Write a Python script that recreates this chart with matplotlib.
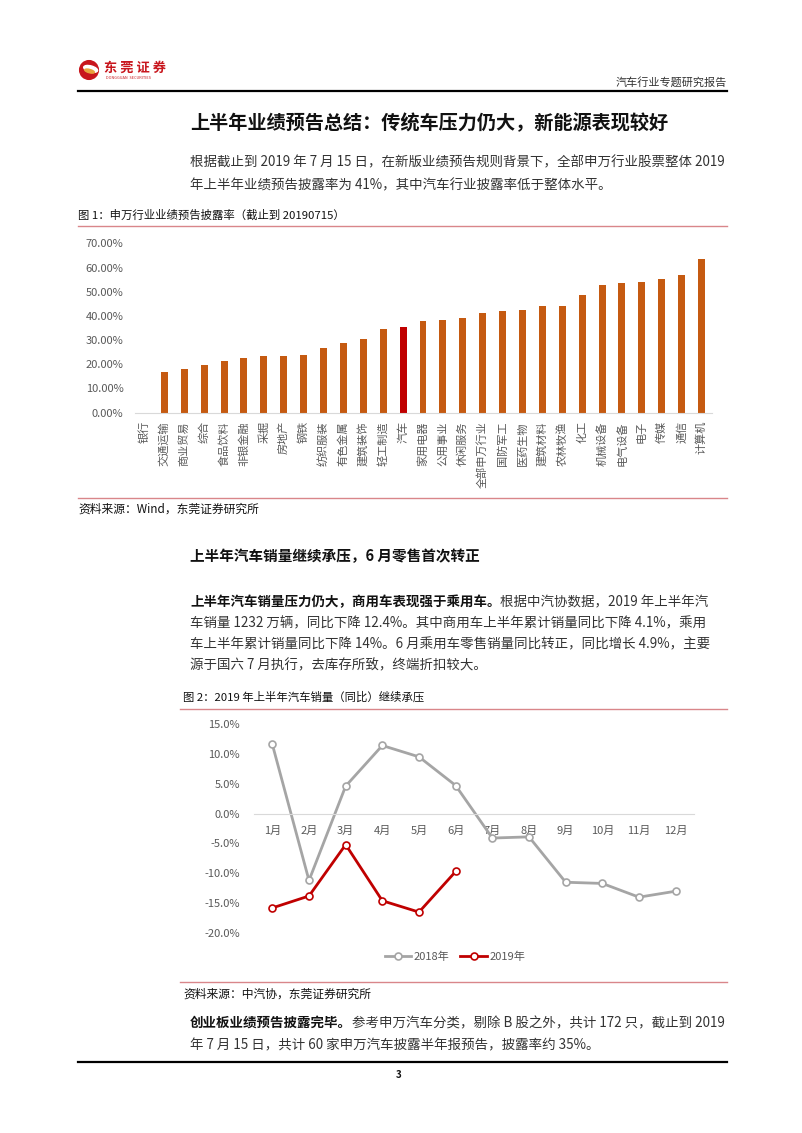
import matplotlib
matplotlib.use("Agg")
import matplotlib.pyplot as plt
from matplotlib.lines import Line2D
from matplotlib.patches import Circle, Ellipse
from matplotlib.ticker import FuncFormatter

plt.rcParams['font.family'] = ['Noto Sans CJK SC', 'DejaVu Sans']

W, H = 802, 1133

# 图1 data: 申万行业业绩预告披露率
industries = ['银行', '交通运输', '商业贸易', '综合', '食品饮料', '非银金融', '采掘', '房地产',
              '钢铁', '纺织服装', '有色金属', '建筑装饰', '轻工制造', '汽车', '家用电器', '公用事业',
              '休闲服务', '全部申万行业', '国防军工', '医药生物', '建筑材料', '农林牧渔', '化工',
              '机械设备', '电气设备', '电子', '传媒', '通信', '计算机']
disclosure = [0.0, 16.8, 17.9, 19.7, 21.4, 22.7, 23.3, 23.6,
              23.8, 26.7, 28.9, 30.4, 34.7, 35.3, 37.8, 38.4,
              39.1, 41.1, 42.0, 42.3, 44.0, 44.0, 48.6,
              52.6, 53.5, 53.9, 55.2, 56.8, 63.6]
y1_ticks = [0, 10, 20, 30, 40, 50, 60, 70]

# 图2 data: 汽车销量同比
months = ['1月', '2月', '3月', '4月', '5月', '6月', '7月', '8月', '9月', '10月', '11月', '12月']
sales_2018 = [11.6, -11.2, 4.6, 11.4, 9.5, 4.7, -4.1, -3.9, -11.5, -11.7, -14.0, -13.0]
sales_2019 = [-15.8, -13.8, -5.2, -14.6, -16.5, -9.7]
y2_ticks = [-20, -15, -10, -5, 0, 5, 10, 15]

fig = plt.figure(figsize=(W / 100, H / 100), dpi=100)
fig.patch.set_facecolor('white')


def fx(x):
    return x / W


def fy(y):
    return 1 - y / H


def txt(x, y, s, **kw):
    kw.setdefault('va', 'center')
    kw.setdefault('ha', 'left')
    return fig.text(fx(x), fy(y), s, **kw)


def hline(y, x0, x1, color, lw):
    fig.add_artist(Line2D([fx(x0), fx(x1)], [fy(y), fy(y)], color=color, lw=lw,
                          transform=fig.transFigure))


def mixed(x, y, bold, rest, size=10):
    t = txt(x, y, bold, fontsize=size, fontweight='bold', color='#111111')
    bb = t.get_window_extent(fig.canvas.get_renderer())
    txt(bb.x1, y, rest, fontsize=size, color='#333333')


BODY = '#333333'
RULE = '#d9868a'
FS = 9.7

# header / logo
lax = fig.add_axes([fx(78), fy(81), 22 / W, 22 / H])
lax.set_xlim(-1, 1)
lax.set_ylim(-1, 1)
lax.set_aspect('equal')
lax.axis('off')
lax.add_patch(Circle((0, 0), 0.85, color='#c8161d'))
lax.add_patch(Ellipse((0.15, 0.1), 1.3, 0.55, angle=-15, color='white'))
lax.add_patch(Ellipse((0.05, -0.1), 0.9, 0.3, angle=-15, color='#e8a33d'))
txt(104, 68, '东 莞 证 券', fontsize=9.5, fontweight='bold', color='#c8161d')
txt(106, 78, 'DONGGUAN  SECURITIES', fontsize=2.8, color='#c8161d')
txt(727, 82, '汽车行业专题研究报告', fontsize=8, color='#333333', ha='right')
hline(91, 78, 727, 'black', 1.6)

# section 1
txt(190, 123, '上半年业绩预告总结：传统车压力仍大，新能源表现较好', fontsize=13.8, fontweight='bold',
    color='#111111')
txt(190, 162, '根据截止到 2019 年 7 月 15 日，在新版业绩预告规则背景下，全部申万行业股票整体 2019',
    fontsize=FS, color=BODY)
txt(190, 185, '年上半年业绩预告披露率为 41%，其中汽车行业披露率低于整体水平。', fontsize=FS, color=BODY)

txt(78, 215, '图 1：申万行业业绩预告披露率（截止到 20190715）', fontsize=8.2, color='#111111')
hline(226, 78, 727, RULE, 1.0)

ax1 = fig.add_axes([fx(134.5), fy(412.7), 577 / W, (412.7 - 243.3) / H])
xpos = list(range(len(industries)))
colors = ['#c00000' if n == '汽车' else '#c55a11' for n in industries]
ax1.bar(xpos, disclosure, width=0.35, color=colors)
ax1.set_xlim(-0.5, len(industries) - 0.5)
ax1.set_ylim(0, 70)
ax1.set_yticks(y1_ticks)
ax1.yaxis.set_major_formatter(FuncFormatter(lambda v, p: '%.2f%%' % v))
ax1.set_xticks(xpos)
ax1.set_xticklabels(industries, rotation=90, va='top', ha='center')
ax1.tick_params(axis='both', length=0, labelsize=8, labelcolor='#595959')
ax1.tick_params(axis='x', pad=6)
ax1.tick_params(axis='y', pad=8)
for s in ['left', 'right', 'top']:
    ax1.spines[s].set_visible(False)
ax1.spines['bottom'].set_color('#d9d9d9')
ax1.set_facecolor('none')

hline(498, 78, 727, RULE, 1.0)
txt(78, 509, '资料来源：Wind，东莞证券研究所', fontsize=8.5, color='#111111')

# section 2
txt(190, 556, '上半年汽车销量继续承压，6 月零售首次转正', fontsize=10.5, fontweight='bold', color='#111111')
mixed(190, 602, '上半年汽车销量压力仍大，商用车表现强于乘用车。', '根据中汽协数据，2019 年上半年汽', FS)
txt(190, 623, '车销量 1232 万辆，同比下降 12.4%。其中商用车上半年累计销量同比下降 4.1%，乘用',
    fontsize=FS, color=BODY)
txt(190, 644, '车上半年累计销量同比下降 14%。6 月乘用车零售销量同比转正，同比增长 4.9%，主要',
    fontsize=FS, color=BODY)
txt(190, 665, '源于国六 7 月执行，去库存所致，终端折扣较大。', fontsize=FS, color=BODY)

txt(183, 697, '图 2：2019 年上半年汽车销量（同比）继续承压', fontsize=8.2, color='#111111')
hline(709, 180, 727, RULE, 1.0)

ax2 = fig.add_axes([fx(254), fy(933), 440 / W, (933 - 724) / H])
ax2.plot(range(len(sales_2018)), sales_2018, color='#a5a5a5', lw=2, marker='o', ms=5,
         mfc='white', mec='#a5a5a5', mew=1.2, label='2018年')
ax2.plot(range(len(sales_2019)), sales_2019, color='#c00000', lw=2, marker='o', ms=5,
         mfc='white', mec='#c00000', mew=1.2, label='2019年')
ax2.set_xlim(-0.5, len(months) - 0.5)
ax2.set_ylim(-20, 15)
ax2.set_yticks(y2_ticks)
ax2.yaxis.set_major_formatter(FuncFormatter(lambda v, p: '%.1f%%' % v))
ax2.set_xticks(range(len(months)))
ax2.set_xticklabels(months)
ax2.tick_params(axis='both', length=0, labelsize=8, labelcolor='#595959')
ax2.tick_params(axis='x', pad=9)
ax2.tick_params(axis='y', pad=10)
for s in ['left', 'right', 'top']:
    ax2.spines[s].set_visible(False)
ax2.spines['bottom'].set_position(('data', 0))
ax2.spines['bottom'].set_color('#d9d9d9')
ax2.set_facecolor('none')
h, l = ax2.get_legend_handles_labels()
fig.legend(h, l, loc='center', bbox_to_anchor=(fx(455), fy(957)), ncol=2, frameon=False,
           fontsize=8, labelcolor='#595959', handlelength=2.4, handletextpad=0.2,
           columnspacing=1.0)

hline(982, 180, 727, RULE, 1.0)
txt(183, 994, '资料来源：中汽协，东莞证券研究所', fontsize=8.5, color='#111111')

mixed(190, 1023, '创业板业绩预告披露完毕。', '参考申万汽车分类，剔除 B 股之外，共计 172 只，截止到 2019', FS)
txt(190, 1045, '年 7 月 15 日，共计 60 家申万汽车披露半年报预告，披露率约 35%。', fontsize=FS, color=BODY)

hline(1062, 78, 727, 'black', 1.6)
txt(399, 1075, '3', fontsize=7, fontweight='bold', color='#111111', ha='center')

fig.savefig('out.png', dpi=100, facecolor='white')
